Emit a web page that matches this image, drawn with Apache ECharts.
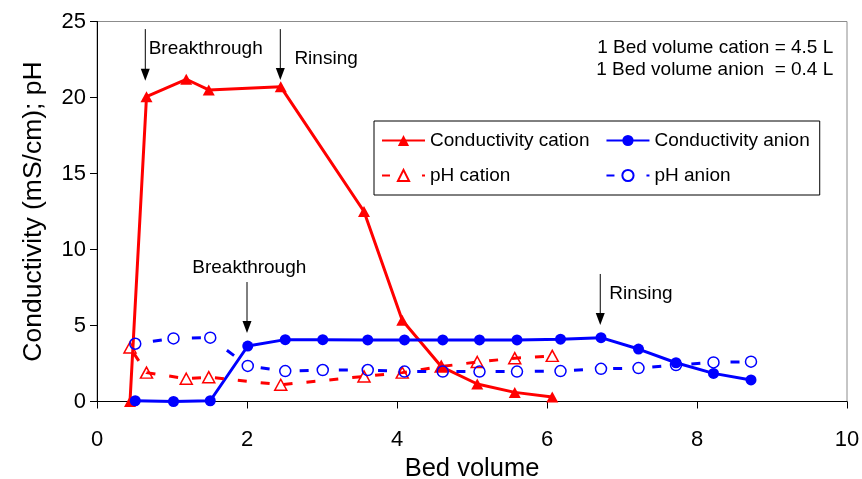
<!DOCTYPE html>
<html>
<head>
<meta charset="utf-8">
<script src="https://cdn.jsdelivr.net/npm/echarts@6/dist/echarts.min.js"></script>
<style>
html,body{margin:0;padding:0;background:#fff;}
#main{width:862px;height:479px;}
</style>
</head>
<body>
<div id="main"></div>
<script>
// ---- data ----
const xCation = [0.44, 0.66, 1.19, 1.49, 2.45, 3.56, 4.07, 4.59, 5.07, 5.57, 6.07];
const condCation = [0, 20.05, 21.2, 20.5, 20.7, 12.5, 5.35, 2.3, 1.15, 0.6, 0.3];
const phCation = [3.55, 1.9, 1.5, 1.6, 1.1, 1.65, 1.9, 2.3, 2.6, 2.85, 3.0];
const xAnion = [0.51, 1.02, 1.51, 2.01, 2.51, 3.01, 3.61, 4.1, 4.61, 5.1, 5.6, 6.18, 6.72, 7.22, 7.72, 8.22, 8.72];
const condAnion = [0.05, 0, 0.05, 3.65, 4.07, 4.07, 4.05, 4.05, 4.05, 4.05, 4.05, 4.1, 4.2, 3.45, 2.55, 1.85, 1.42];
const phAnion = [3.8, 4.15, 4.2, 2.34, 2.0, 2.07, 2.07, 1.97, 1.97, 1.97, 1.97, 2.0, 2.15, 2.2, 2.4, 2.57, 2.62];
const seriesNames = ['Conductivity cation', 'Conductivity anion', 'pH cation', 'pH anion'];
const xTicks = [0, 2, 4, 6, 8, 10];
const yTicks = [0, 5, 10, 15, 20, 25];
const xName = 'Bed volume';
const yName = 'Conductivity (mS/cm); pH';
// annotations (data coordinates)
const arrows = [
  {x: 0.644, from: 24.5, to: 21.1},
  {x: 2.444, from: 24.5, to: 21.15},
  {x: 2.0, from: 7.86, to: 4.5},
  {x: 6.71, from: 8.39, to: 5.03}
];
const labels = [
  {text: 'Breakthrough', x: 0.689, y: 23.19, align: 'left'},
  {text: 'Rinsing', x: 2.632, y: 22.53, align: 'left'},
  {text: 'Breakthrough', x: 1.27, y: 8.78, align: 'left'},
  {text: 'Rinsing', x: 6.83, y: 7.07, align: 'left'},
  {text: '1 Bed volume cation = 4.5 L', x: 9.817, y: 23.26, align: 'right'},
  {text: '1 Bed volume anion  = 0.4 L', x: 9.817, y: 21.81, align: 'right'}
];

const FONT = '"Liberation Sans", Arial, sans-serif';
const RED = '#ff0000', BLUE = '#0000ff';
const zip = (xs, ys) => xs.map((x, i) => [x, ys[i]]);
const legendDash = {type: [8, 32], dashOffset: 0};

const chart = echarts.init(document.getElementById('main'), null, {renderer: 'canvas'});
chart.setOption({
  animation: false,
  backgroundColor: '#ffffff',
  grid: {left: 97, right: 15, top: 21.5, bottom: 77.5, show: true, borderColor: '#8c8c8c', borderWidth: 1,
    backgroundColor: 'transparent', containLabel: false, outerBoundsMode: 'none'},
  xAxis: {
    type: 'value', min: xTicks[0], max: xTicks[xTicks.length - 1], interval: 2,
    name: xName, nameLocation: 'middle', nameGap: 54,
    nameTextStyle: {fontFamily: FONT, fontSize: 25.5, color: '#000'},
    axisLine: {show: true, lineStyle: {color: '#000', width: 1}},
    axisTick: {show: true, inside: false, length: 7, lineStyle: {color: '#000'}},
    axisLabel: {fontFamily: FONT, fontSize: 22, color: '#000', margin: 27},
    splitLine: {show: false}
  },
  yAxis: {
    type: 'value', min: yTicks[0], max: yTicks[yTicks.length - 1], interval: 5,
    name: yName, nameLocation: 'middle', nameGap: 50, nameRotate: 90,
    nameTextStyle: {fontFamily: FONT, fontSize: 26.5, color: '#000'},
    axisLine: {show: true, lineStyle: {color: '#000', width: 1}},
    axisTick: {show: true, inside: false, length: 7, lineStyle: {color: '#000'}},
    axisLabel: {fontFamily: FONT, fontSize: 22, color: '#000', margin: 11},
    splitLine: {show: false}
  },
  legend: {
    data: [
      {name: seriesNames[0]},
      {name: seriesNames[2], lineStyle: legendDash},
      {name: seriesNames[1]},
      {name: seriesNames[3], lineStyle: legendDash}
    ],
    orient: 'vertical', left: 374, top: 121, height: 60,
    padding: [10, 10, 10, 7],
    itemGap: 16, itemWidth: 43, itemHeight: 14,
    backgroundColor: '#fff', borderColor: '#000', borderWidth: 1, borderRadius: 0,
    textStyle: {fontFamily: FONT, fontSize: 19, color: '#000', lineHeight: 17}
  },
  series: [
    {
      name: seriesNames[0], type: 'line', data: zip(xCation, condCation),
      symbol: 'triangle', symbolSize: [12, 11],
      itemStyle: {color: RED}, lineStyle: {color: RED, width: 3}, z: 2
    },
    {
      name: seriesNames[1], type: 'line', data: zip(xAnion, condAnion),
      symbol: 'circle', symbolSize: 11,
      itemStyle: {color: BLUE}, lineStyle: {color: BLUE, width: 3}, z: 3
    },
    {
      name: seriesNames[2], type: 'line', data: zip(xCation, phCation),
      symbol: 'triangle', symbolSize: [12, 11],
      itemStyle: {color: 'rgba(255,255,255,0)', borderColor: RED, borderWidth: 1.5},
      lineStyle: {color: RED, width: 3, type: [9, 14], dashOffset: 16}, z: 4
    },
    {
      name: seriesNames[3], type: 'line', data: zip(xAnion, phAnion),
      symbol: 'circle', symbolSize: 11,
      itemStyle: {color: 'rgba(255,255,255,0)', borderColor: BLUE, borderWidth: 1.5},
      lineStyle: {color: BLUE, width: 3, type: [9, 30.2], dashOffset: 21.4}, z: 5
    }
  ]
});

// annotations placed through the chart's own coordinate system
const g = [];
arrows.forEach(a => {
  const p1 = chart.convertToPixel({gridIndex: 0}, [a.x, a.from]);
  const p2 = chart.convertToPixel({gridIndex: 0}, [a.x, a.to]);
  g.push({type: 'line', shape: {x1: p1[0], y1: p1[1], x2: p2[0], y2: p2[1] - 10}, style: {stroke: '#000', lineWidth: 1}, z: 50});
  g.push({type: 'polygon', shape: {points: [[p2[0], p2[1]], [p2[0] - 4.5, p2[1] - 12], [p2[0] + 4.5, p2[1] - 12]]}, style: {fill: '#000'}, z: 50});
});
labels.forEach(l => {
  const p = chart.convertToPixel({gridIndex: 0}, [l.x, l.y]);
  g.push({type: 'text', x: p[0], y: p[1], z: 50,
    style: {text: l.text, fontFamily: FONT, fontSize: 19, fill: '#000', align: l.align, verticalAlign: 'middle'}});
});
chart.setOption({graphic: g});
</script>
</body>
</html>
